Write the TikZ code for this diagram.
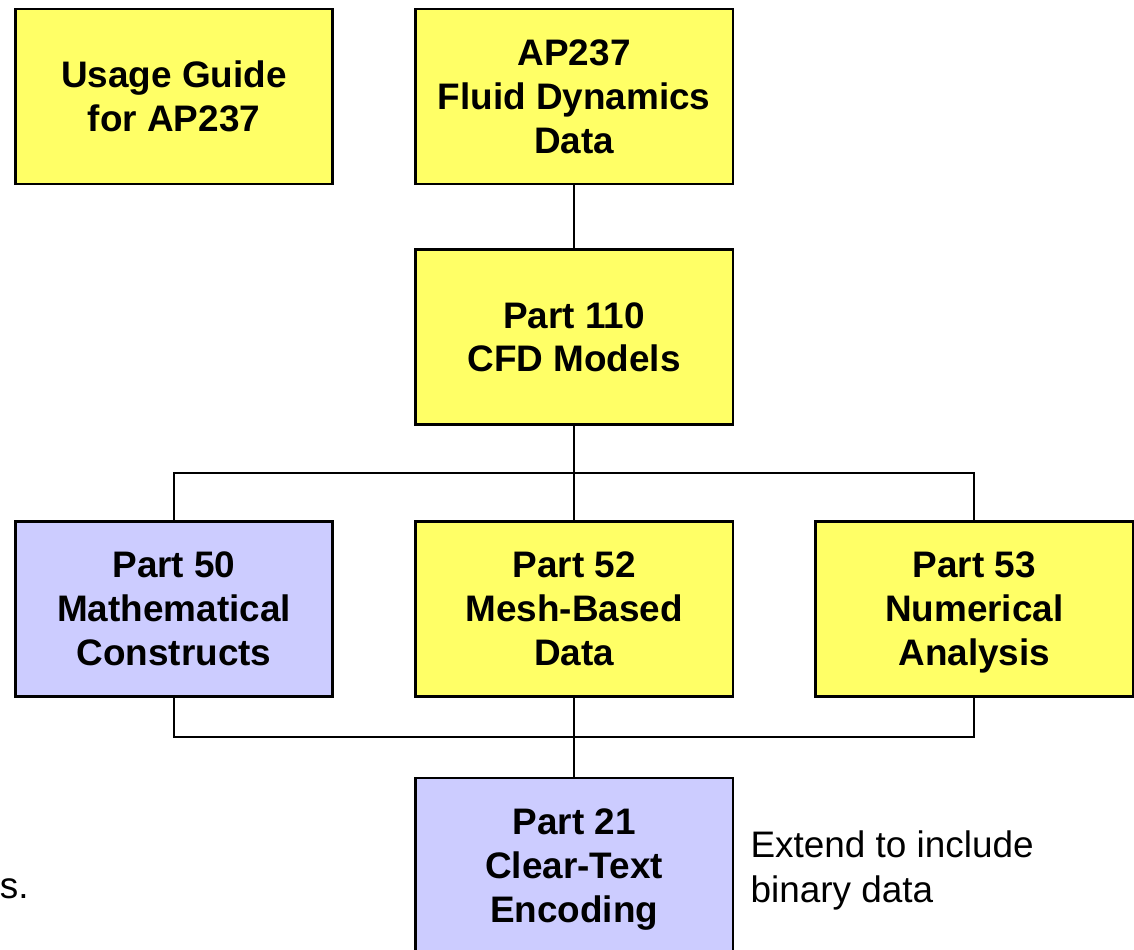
\documentclass[tikz,border=0pt]{standalone}
\usepackage{fontspec}
\setmainfont{Liberation Sans}
\usepackage{xcolor}
\usepackage{tikz}
\usetikzlibrary{positioning, calc}
\definecolor{partyellow}{HTML}{FFFF66}
\definecolor{partblue}{HTML}{CCCCFF}
\tikzset{
    block/.style={
        draw, line width = 1.5pt,
        fill = partyellow,
        minimum width = 6.35cm,
        minimum height = 3.5cm,
        text depth = 0pt,
        align = center,
        font = \fontsize{21}{25}\selectfont\bfseries
    },
    resource/.style = {block, fill = partblue},
    note/.style = {align = left, inner sep = 0pt,
        font = \fontsize{21}{26}\selectfont},
    line/.style = {line width = 1.1pt}
}

\begin{document}
\begin{tikzpicture}

                        \useasboundingbox (0,0) rectangle (22.68,-19);

                        % Top row
                        \node[block] (guide) at (3.48,-1.93) {Usage Guide\\for AP237};
                        \node[block, right = 1.6 of guide] (ap237) {AP237\\Fluid Dynamics\\Data};

                        % CFD models
                        \node[block, below = 1.26 of ap237] (part110) {Part 110\\CFD Models};

                        % Middle row
                        \node[block, below = 1.88 of part110] (part52) {Part 52\\Mesh-Based\\Data};
                        \node[resource, left = 1.6 of part52] (part50) {Part 50\\Mathematical\\Constructs};
                        \node[block, right = 1.6 of part52] (part53) {Part 53\\Numerical\\Analysis};

                        % Encoding
                        \node[resource, below = 1.58 of part52] (part21) {Part 21\\Clear-Text\\Encoding};
                        \node[note, right = 0.32 of part21, yshift = -0.1cm] (extend) {Extend to include\\binary data};
                        \node[note, anchor = base east] (cut) at (0.58,-17.96) {s.};

                        % Lines
                        \coordinate (split) at ($(part110.south)!0.5!(part52.north)$);
                        \coordinate (join) at ($(part52.south)!0.5!(part21.north)$);
                        \draw[line] (ap237.south) -- (part110.north);
                        \draw[line] (part110.south) -- (part52.north);
                        \draw[line] (part50.north) |- (split) -| (part53.north);
                        \draw[line] (part50.south) |- (join) -| (part53.south);
                        \draw[line] (part52.south) -- (part21.north);

                    \end{tikzpicture}
\end{document}
